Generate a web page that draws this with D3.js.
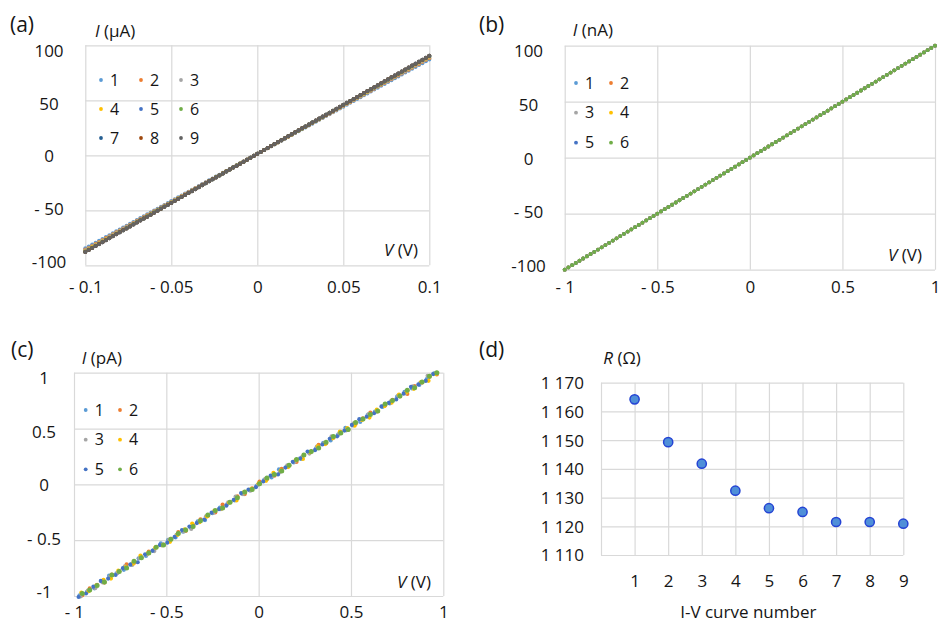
<!DOCTYPE html>
<html>
<head>
<meta charset="utf-8">
<script src="https://cdn.jsdelivr.net/npm/d3@7"></script>
<style>
  body { margin: 0; background: #fff; }
  svg { display: block; }
</style>
</head>
<body>
<svg id="chart" width="939" height="622"></svg>
<script>
const FONT = "'Open Sans', 'Noto Sans', sans-serif";
const TEXT_COLOR = "#151515";
const GRID_COLOR = "#d9d9d9";

// excel default palette, one colour per curve
const seriesColors = ["#5b9bd5", "#ed7d31", "#a5a5a5", "#ffc000", "#4472c4",
                      "#70ad47", "#255e91", "#9e480e", "#636363"];

// (d) resistance of each I-V curve
const curveNumbers = [1, 2, 3, 4, 5, 6, 7, 8, 9];
const resistanceOhm = [1164.2, 1149.3, 1141.8, 1132.4, 1126.3, 1125.0, 1121.5, 1121.5, 1120.9];
const rTicks = [1110, 1120, 1130, 1140, 1150, 1160, 1170];
const rTickLabels = ["1 110", "1 120", "1 130", "1 140", "1 150", "1 160", "1 170"];

// (a) sweep -0.1..0.1 V, current in uA = V / R, small zero offset seen on the plot
const aSweep = [-0.1, 0.1, 0.002];
const aOffsetMicroA = 1.3;
const aXTicks = [-0.1, -0.05, 0, 0.05, 0.1];
const aXLabels = ["- 0.1", "- 0.05", "0", "0.05", "0.1"];
const aYTicks = [-100, -50, 0, 50, 100];
const aYLabels = ["-100", "- 50", "0", "50", "100"];

// (b) sweep -1..1 V, 10 MOhm for all six curves -> nA
const bSweep = [-1, 1, 0.02];
const bResistanceMOhm = [10, 10, 10, 10, 10, 10];
const bXTicks = [-1, -0.5, 0, 0.5, 1];
const bXLabels = ["- 1", "- 0.5", "0", "0.5", "1"];
const bYTicks = [-100, -50, 0, 50, 100];
const bYLabels = ["-100", "- 50", "0", "50", "100"];

// (c) noisy pA curves: start voltage, slope (pA/V), step 0.04 V, scatter in 0.01 pA
const cStep = 0.04;
const cStartV = [-0.97, -0.955, -0.965, -0.96, -0.975, -0.955];
const cSlope = [1.035, 1.03, 1.04, 1.03, 1.035, 1.035];
const cScatter1 = [1,0,-1,1,2,0,-1,0,1,-1, 0,2,1,-1,0,0,1,-2,0,1, 0,-1,1,0,0,1,-1,2,0,0, -1,1,0,1,-1,0,2,0,-1,1, 0,0,-1,1,1,0,-1,0,1];
const cScatter2 = [-1,1,0,-2,1,0,2,-1,0,1, 1,-1,0,2,-1,0,1,0,-1,2, 0,1,-1,0,2,0,-1,1,0,-1, 1,0,2,-1,0,1,-1,0,1,2, -1,0,1,0,-2,1,0,1,-1];
const cScatter3 = [0,1,-1,0,1,0,2,-1,1,0, -1,0,1,1,0,-2,0,1,0,-1, 1,2,0,-1,0,1,0,-1,1,0, 0,-1,1,0,2,0,-1,1,0,1, -1,0,0,1,-1,1,0,2,0];
const cScatter4 = [2,-1,0,1,-2,1,0,-1,2,0, 1,-1,-2,0,1,2,-1,0,1,-1, 0,-2,1,0,1,-1,2,0,-1,1, -2,0,1,-1,0,2,1,-1,0,-2, 1,0,-1,2,0,-1,1,-2,0];
const cScatter5 = [0,-1,1,2,0,-1,1,0,-2,1, 0,1,-1,0,2,1,0,-1,1,0, -1,0,2,1,-1,0,1,-2,0,1, 0,2,-1,0,1,-1,0,1,2,0, -1,1,0,-1,0,2,0,-1,1];
const cScatter6 = [1,0,0,-1,1,0,-1,1,0,0, 1,-1,0,1,0,-1,0,1,1,-1, 0,0,1,-1,0,1,0,-1,0,1, 1,0,-1,0,1,0,-1,1,0,0, -1,1,0,0,1,-1,0,1,0];
const cXTicks = [-1, -0.5, 0, 0.5, 1];
const cXLabels = ["- 1", "- 0.5", "0", "0.5", "1"];
const cYTicks = [-1, -0.5, 0, 0.5, 1];
const cYLabels = ["-1", "- 0.5", "0", "0.5", "1"];

const svg = d3.select("#chart");

function sweep(s) {
	return d3.range(s[0], s[1] + s[2] / 2, s[2]).map(v => +v.toFixed(4));
}

// build point lists
const aSeries = resistanceOhm.map(r => sweep(aSweep).map(v => [v, v / r * 1e6 + aOffsetMicroA]));
const bSeries = bResistanceMOhm.map(r => sweep(bSweep).map(v => [v, v / r * 1e3]));
const cScatter = [cScatter1, cScatter2, cScatter3, cScatter4, cScatter5, cScatter6];
const cSeries = cScatter.map((noise, k) => noise.map((n, i) => {
	const v = cStartV[k] + i * cStep;
	return [v, v * cSlope[k] + n * 0.01];
}));

function styleAxis(sel) {
	sel.select(".domain").remove();
	sel.attr("font-family", FONT).attr("font-size", 17).style("color", TEXT_COLOR);
}

function drawGrid(g, x, y, box, xTicks, yTicks) {
	g.append("g")
		.attr("transform", `translate(0,${box.bottom})`)
		.call(d3.axisBottom(x).tickValues(xTicks).tickSize(-(box.bottom - box.top)).tickFormat(""))
		.call(s => s.select(".domain").remove())
		.selectAll("line").attr("stroke", GRID_COLOR).attr("stroke-width", 1.2);
	g.append("g")
		.attr("transform", `translate(${box.left},0)`)
		.call(d3.axisLeft(y).tickValues(yTicks).tickSize(-(box.right - box.left)).tickFormat(""))
		.call(s => s.select(".domain").remove())
		.selectAll("line").attr("stroke", GRID_COLOR).attr("stroke-width", 1.2);
}

function axisTitle(g, x, y, italic, rest, anchor) {
	const t = g.append("text")
		.attr("x", x).attr("y", y).attr("dy", "0.35em")
		.attr("font-family", FONT).attr("font-size", 17)
		.attr("fill", TEXT_COLOR)
		.attr("text-anchor", anchor || "start");
	if (italic) t.append("tspan").attr("font-style", "italic").text(italic);
	t.append("tspan").text(rest);
}

function panelTag(x, y, label) {
	svg.append("text")
		.attr("x", x).attr("y", y).attr("dy", "0.35em")
		.attr("font-family", FONT).attr("font-size", 21)
		.attr("fill", TEXT_COLOR)
		.text(label);
}

/**
 * draws one I-V scatter panel with grid, tick labels, legend and titles
 */
function drawIVPanel(cfg) {
	const box = cfg.box;
	const g = svg.append("g");
	const x = d3.scaleLinear().domain(cfg.xDomain).range([box.left, box.right]);
	const y = d3.scaleLinear().domain(cfg.yDomain).range([box.bottom, box.top]);
	// labels sit a bit inside the grid in the original figure
	const yLab = y.copy().range([box.bottom - 4, box.top + 5]);

	drawGrid(g, x, y, box, cfg.xTicks, cfg.yTicks);

	g.append("g")
		.attr("transform", `translate(0,${cfg.xLabelY})`)
		.call(d3.axisBottom(x).tickValues(cfg.xTicks).tickSize(0).tickPadding(0)
			.tickFormat((d, i) => cfg.xLabels[i]))
		.call(styleAxis)
		.selectAll("text").attr("y", 0).attr("dy", "0.35em");

	g.append("g")
		.attr("transform", `translate(${cfg.yLabelX},0)`)
		.call(d3.axisLeft(yLab).tickValues(cfg.yTicks).tickSize(0).tickPadding(0)
			.tickFormat((d, i) => cfg.yLabels[i]))
		.call(styleAxis)
		.attr("text-anchor", "middle")
		.selectAll("text").attr("x", 0).attr("dy", "0.35em");

	// data, first curve at the bottom; the last one drawn a touch larger
	const n = cfg.series.length;
	cfg.series.forEach((pts, k) => {
		g.append("g").selectAll("circle")
			.data(pts)
			.enter()
			.append("circle")
			.attr("cx", d => x(d[0]))
			.attr("cy", d => y(d[1]))
			.attr("r", k === n - 1 ? cfg.lastR : cfg.dotR)
			.attr("fill", seriesColors[k]);
	});

	// legend
	const leg = cfg.legend;
	cfg.series.forEach((pts, k) => {
		const cx = leg.cols[k % leg.cols.length];
		const cy = leg.rows[Math.floor(k / leg.cols.length)];
		g.append("circle").attr("cx", cx).attr("cy", cy).attr("r", 1.9).attr("fill", seriesColors[k]);
		g.append("text")
			.attr("x", cx + 9).attr("y", cy).attr("dy", "0.35em")
			.attr("font-family", FONT).attr("font-size", 16)
			.attr("fill", TEXT_COLOR)
			.text(k + 1);
	});

	axisTitle(g, cfg.iTitle[0], cfg.iTitle[1], "I", " (" + cfg.unit + ")");
	axisTitle(g, cfg.vTitle[0], cfg.vTitle[1], "V", " (V)");
}

drawIVPanel({
	box: { left: 85.3, right: 429.3, top: 45.3, bottom: 265.3 },
	xDomain: [-0.1, 0.1], yDomain: [-100, 100],
	xTicks: aXTicks, xLabels: aXLabels, yTicks: aYTicks, yLabels: aYLabels,
	xLabelY: 287.3, yLabelX: 49,
	series: aSeries, dotR: 2, lastR: 2,
	legend: { cols: [101, 141, 181], rows: [80, 109, 138] },
	unit: "\u00b5A", iTitle: [95, 30.7], vTitle: [384, 250]
});

drawIVPanel({
	box: { left: 564.7, right: 935, top: 45.7, bottom: 269.7 },
	xDomain: [-1, 1], yDomain: [-100, 100],
	xTicks: bXTicks, xLabels: bXLabels, yTicks: bYTicks, yLabels: bYLabels,
	xLabelY: 287.3, yLabelX: 528.5,
	series: bSeries, dotR: 1.9, lastR: 1.9,
	legend: { cols: [576, 611], rows: [83, 112.7, 142.7] },
	unit: "nA", iTitle: [572.7, 30], vTitle: [888, 255]
});

drawIVPanel({
	box: { left: 74, right: 443.3, top: 372.7, bottom: 596 },
	xDomain: [-1, 1], yDomain: [-1, 1],
	xTicks: cXTicks, xLabels: cXLabels, yTicks: cYTicks, yLabels: cYLabels,
	xLabelY: 612.5, yLabelX: 44,
	series: cSeries, dotR: 2.1, lastR: 2.5,
	legend: { cols: [85.7, 120], rows: [410, 439.7, 469.3] },
	unit: "pA", iTitle: [81.7, 358.3], vTitle: [397, 581.7]
});

// (d) resistance vs curve number
function drawResistance() {
	const box = { left: 601, right: 903.3, top: 382.7, bottom: 555 };
	const g = svg.append("g");
	const x = d3.scaleLinear().domain([0, 9]).range([box.left, box.right]);
	const y = d3.scaleLinear().domain([1110, 1170]).range([box.bottom, box.top]);

	drawGrid(g, x, y, box, d3.range(0, 10), rTicks);

	g.append("g")
		.attr("transform", "translate(0,580.7)")
		.call(d3.axisBottom(x).tickValues(curveNumbers).tickSize(0).tickPadding(0))
		.call(styleAxis)
		.selectAll("text").attr("y", 0).attr("dy", "0.35em");

	g.append("g")
		.attr("transform", "translate(584,0)")
		.call(d3.axisLeft(y).tickValues(rTicks).tickSize(0).tickPadding(0)
			.tickFormat((d, i) => rTickLabels[i]))
		.call(styleAxis)
		.selectAll("text").attr("x", 0).attr("dy", "0.35em");

	g.append("g").selectAll("circle")
		.data(curveNumbers)
		.enter()
		.append("circle")
		.attr("cx", d => x(d))
		.attr("cy", (d, i) => y(resistanceOhm[i]))
		.attr("r", 4.6)
		.attr("fill", "#4f8fd8")
		.attr("stroke", "#2443d4")
		.attr("stroke-width", 1.5);

	axisTitle(g, 603.3, 358.3, "R", " (\u03a9)");
	axisTitle(g, 748.3, 612.5, null, "I-V curve number", "middle");
}
drawResistance();

panelTag(10, 25, "(a)");
panelTag(479, 25, "(b)");
panelTag(11, 350, "(c)");
panelTag(479, 350, "(d)");
</script>
</body>
</html>
